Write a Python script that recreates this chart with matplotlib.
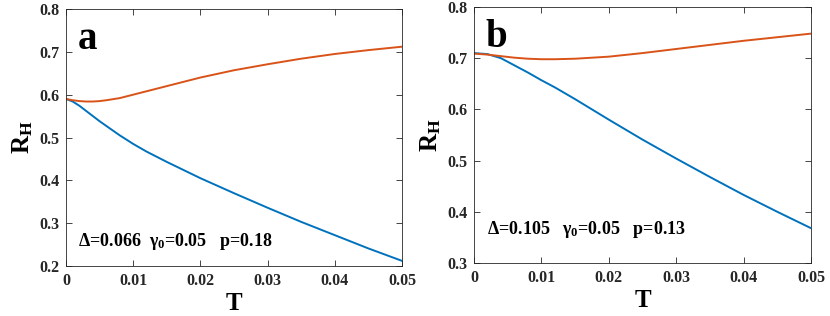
import numpy as np
import matplotlib.pyplot as plt

plt.rcParams['font.family'] = ['Liberation Serif', 'DejaVu Serif']
plt.rcParams['font.weight'] = 'bold'
plt.rcParams['mathtext.fontset'] = 'custom'
plt.rcParams['mathtext.rm'] = 'Liberation Serif:bold'
plt.rcParams['mathtext.it'] = 'Liberation Serif:bold'
plt.rcParams['mathtext.bf'] = 'Liberation Serif:bold'

# panel a
T_a = [0, 0.001, 0.002, 0.003, 0.004, 0.005, 0.006, 0.008, 0.01, 0.012, 0.015,
       0.02, 0.025, 0.03, 0.035, 0.04, 0.045, 0.05]
RH_a_upper = [0.590, 0.587, 0.585, 0.584, 0.584, 0.585, 0.587, 0.592, 0.600, 0.608, 0.620,
              0.640, 0.657, 0.671, 0.684, 0.695, 0.704, 0.712]
RH_a_lower = [0.590, 0.584, 0.574, 0.562, 0.550, 0.538, 0.527, 0.505, 0.485, 0.467, 0.443,
              0.405, 0.370, 0.336, 0.303, 0.272, 0.241, 0.212]

# panel b
T_b = [0, 0.002, 0.004, 0.006, 0.008, 0.01, 0.012, 0.015, 0.02, 0.025, 0.03,
       0.035, 0.04, 0.045, 0.05]
RH_b_upper = [0.709, 0.707, 0.704, 0.701, 0.699, 0.698, 0.698, 0.699, 0.703, 0.710, 0.718,
              0.726, 0.734, 0.741, 0.748]
RH_b_lower = [0.710, 0.708, 0.700, 0.686, 0.672, 0.657, 0.643, 0.620, 0.580, 0.541, 0.504,
              0.468, 0.433, 0.400, 0.368]

xticks = [0, 0.01, 0.02, 0.03, 0.04, 0.05]
xticklabels = ['0', '0.01', '0.02', '0.03', '0.04', '0.05']

blue = '#0072BD'
orange = '#D95319'
axcol = '#262626'

fig = plt.figure(figsize=(8.3, 3.16), dpi=100)
ax1 = fig.add_axes([66/830, 1 - 266/316, 336/830, 257/316])
ax2 = fig.add_axes([474/830, 1 - 263/316, 337/830, 256/316])

panels = [
    (ax1, T_a, RH_a_upper, RH_a_lower, (0.2, 0.8), 'a',
     r'Δ=0.066  $γ_0$=0.05   p=0.18', 0.0018, 0.247),
    (ax2, T_b, RH_b_upper, RH_b_lower, (0.3, 0.8), 'b',
     r'Δ=0.105   $γ_0$=0.05   p=0.13', 0.0019, 0.357),
]

for ax, t, ru, rl, ylim, lab, note, nx, ny in panels:
    ax.plot(t, rl, color=blue, lw=1.4)
    ax.plot(t, ru, color=orange, lw=1.4)
    ax.set_xlim(0, 0.05)
    ax.set_ylim(*ylim)
    ax.set_xticks(xticks)
    ax.set_xticklabels(xticklabels)
    ax.yaxis.set_major_formatter(plt.FormatStrFormatter('%.1f'))
    ax.tick_params(direction='in', top=True, right=True, length=4, width=0.6,
                   colors=axcol, labelsize=11.5, pad=5)
    for lbl in ax.get_xticklabels() + ax.get_yticklabels():
        lbl.set_fontweight('bold')
    for s in ax.spines.values():
        s.set_color(axcol)
        s.set_linewidth(0.6)
    ax.set_xlabel('T', fontsize=18, fontweight='bold', labelpad=2)
    ax.set_ylabel(r'R$_{\rm H}$', fontsize=18, fontweight='bold', labelpad=3)
    ax.text(0.035, 0.955, lab, transform=ax.transAxes, fontsize=28,
            fontweight='bold', va='top', ha='left')
    ax.text(nx, ny, note, fontsize=13, fontweight='bold', va='baseline')

fig.savefig('out.png', dpi=100)
